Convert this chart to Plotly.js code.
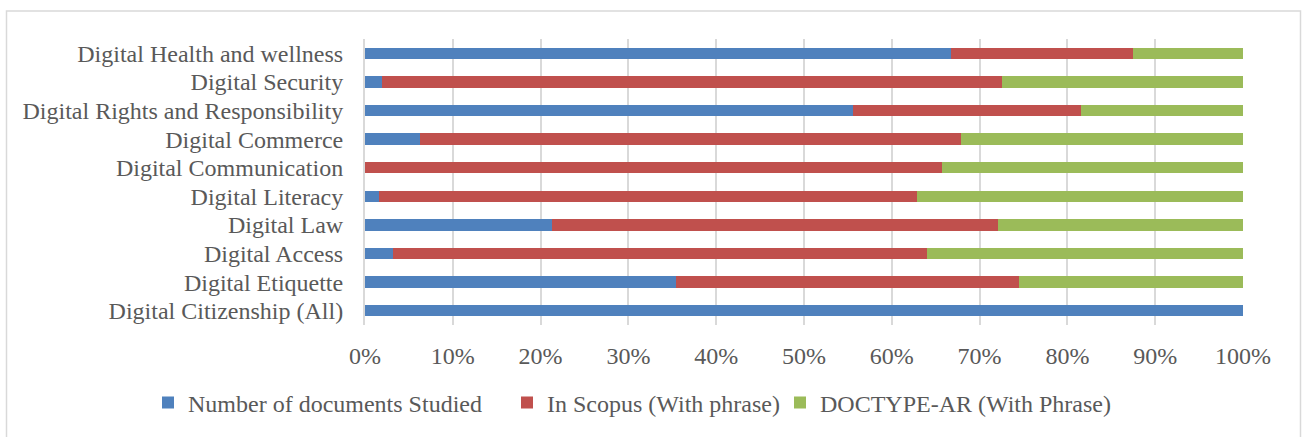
<!DOCTYPE html>
<html>
<head>
<meta charset="utf-8">
<script src="https://cdn.plot.ly/plotly-3.0.1.min.js"></script>
<style>html,body{margin:0;padding:0;background:#fff;}#chart{width:1303px;height:437px;}</style>
</head>
<body>
<div id="chart"></div>
<script>
const categories = [
  "Digital Health and wellness",
  "Digital Security",
  "Digital Rights and Responsibility",
  "Digital Commerce",
  "Digital Communication",
  "Digital Literacy",
  "Digital Law",
  "Digital Access",
  "Digital Etiquette",
  "Digital Citizenship (All)"
];
const seriesNames = ["Number of documents Studied", "In Scopus (With phrase)", "DOCTYPE-AR (With Phrase)"];
const documentsStudied = [66.7, 1.9, 55.6, 6.3, 0, 1.6, 21.3, 3.2, 35.4, 100];
const inScopus = [20.8, 70.6, 25.9, 61.6, 65.7, 61.3, 50.8, 60.8, 39.1, 0];
const doctypeAR = [12.5, 27.5, 18.5, 32.1, 34.3, 37.1, 27.9, 36.0, 25.5, 0];
const tickVals = [0,10,20,30,40,50,60,70,80,90,100];
const tickText = ["0%","10%","20%","30%","40%","50%","60%","70%","80%","90%","100%"];
const colors = ["#4F81BD", "#C0504D", "#9BBB59"];

const FONT = "Liberation Serif, Times New Roman, serif";
const FS = 24;
const values = [documentsStudied, inScopus, doctypeAR];
const legendIds = ["legend", "legend2", "legend3"];
const traces = values.map((v, i) => ({
  type: "bar",
  orientation: "h",
  name: seriesNames[i],
  y: categories,
  x: v,
  marker: {color: colors[i], line: {width: 0}},
  legend: legendIds[i],
  hoverinfo: "x+y+name"
}));

// pixel helpers for paper coords
const L = 365, R = 1243, T = 38.6, B = 326.6;
const px = p => (p - L) / (R - L);
const py = q => (B - q) / (B - T);

const legBase = {
  orientation: "h", yanchor: "middle", xanchor: "left",
  y: py(405), bgcolor: "rgba(0,0,0,0)", borderwidth: 0,
  font: {family: FONT, size: FS, color: "#595959"}
};

const layout = {
  width: 1303, height: 437,
  margin: {l: L, r: 1303 - R, t: T, b: 437 - B, pad: 0},
  paper_bgcolor: "#ffffff",
  plot_bgcolor: "#ffffff",
  barmode: "stack",
  bargap: 0.6,
  font: {family: FONT, size: FS, color: "#595959"},
  xaxis: {
    range: [0, 100],
    tickvals: tickVals,
    ticktext: tickText,
    showgrid: true,
    gridcolor: "#d9d9d9",
    gridwidth: 2,
    zeroline: false,
    showline: false,
    ticks: "",
    ticklabelstandoff: 14,
    tickfont: {family: FONT, size: FS, color: "#595959"},
    fixedrange: true
  },
  yaxis: {
    type: "category",
    autorange: "reversed",
    tickmode: "array",
    tickvals: categories,
    ticktext: categories,
    showgrid: false,
    showline: true,
    linecolor: "#d9d9d9",
    linewidth: 2,
    ticks: "",
    ticklabelstandoff: 15,
    tickfont: {family: FONT, size: FS, color: "#595959"},
    fixedrange: true
  },
  showlegend: true,
  legend: Object.assign({}, legBase, {x: px(148)}),
  legend2: Object.assign({}, legBase, {x: px(507)}),
  legend3: Object.assign({}, legBase, {x: px(780)}),
  shapes: [{
    type: "rect", xref: "paper", yref: "paper",
    x0: px(6.5), x1: px(1300.5), y0: py(445), y1: py(10.5),
    line: {color: "#d9d9d9", width: 1.5}, fillcolor: "rgba(0,0,0,0)", layer: "below"
  }]
};

Plotly.newPlot("chart", traces, layout, {displayModeBar: false, staticPlot: true});
</script>
</body>
</html>
